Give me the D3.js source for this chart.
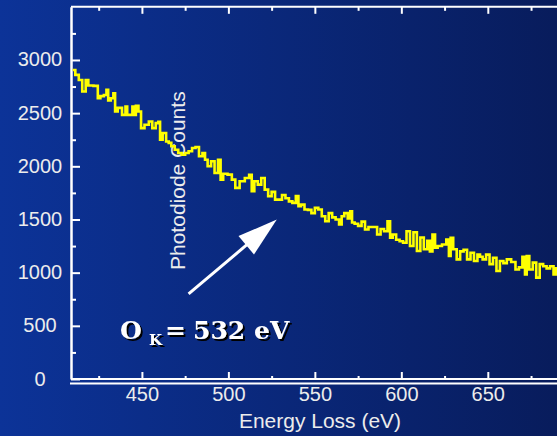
<!DOCTYPE html>
<html><head><meta charset="utf-8">
<script src="https://cdn.jsdelivr.net/npm/d3@7/dist/d3.min.js"></script>
<style>
html,body{margin:0;padding:0;overflow:hidden;background:#0a2a80}
</style>
</head><body>
<svg id="chart" width="557" height="436"></svg>
<script>
// ---- data ----
const energy = [410,413,414,417,418,420,424,425,427,429,430,431,433,434,435,437,440,441,442,444,445,446,447,449,450,453,455,457,459,460,461,463,465,466,468,470,472,474,476,478,480,482,484,486,487,489,491,493,495,496,498,501,503,505,508,511,513,514,516,518,520,522,524,526,528,530,532,534,536,538,540,541,543,545,547,549,551,553,555,557,559,561,563,565,566,568,570,571,572,574,576,578,580,582,585,587,589,591,593,594,596,598,600,602,604,606,608,610,612,614,616,617,619,620,622,625,627,628,629,631,633,635,637,639,641,643,645,646,648,650,652,654,656,658,660,662,665,667,669,671,672,673,675,677,679,681,683,685,687,689,690];
const counts = [2906,2860,2812,2703,2812,2760,2756,2640,2660,2670,2719,2620,2640,2687,2516,2550,2484,2562,2484,2484,2562,2484,2569,2516,2359,2391,2422,2359,2406,2419,2250,2313,2234,2220,2188,2156,2125,2109,2125,2141,2172,2181,2094,2125,2062,2000,2047,1937,2062,1875,1930,1922,1875,1797,1860,1890,1920,1765,1859,1828,1890,1781,1718,1760,1687,1687,1730,1700,1670,1656,1720,1625,1640,1594,1590,1560,1609,1594,1530,1484,1560,1520,1500,1453,1530,1560,1510,1578,1472,1460,1440,1480,1406,1430,1430,1359,1410,1390,1484,1328,1359,1310,1295,1281,1390,1250,1380,1203,1330,1220,1300,1200,1359,1234,1250,1265,1312,1156,1328,1220,1125,1200,1215,1125,1187,1110,1170,1150,1125,1170,1080,1140,1016,1110,1090,1125,1100,1030,1050,1150,984,1156,1030,1094,953,1080,1060,1040,1060,984,1040];
const yMajor = [0,500,1000,1500,2000,2500,3000];
const yMinor = [250,750,1250,1750,2250,2750,3250];
const xMajor = [450,500,550,600,650];
const xMinor = [425,475,525,575,625,675];
const xTitle = "Energy Loss (eV)";
const yTitle = "Photodiode Counts";
const noteMain = "O", noteSub = "K", noteEq = "=", noteVal = "532", noteUnit = "eV";
const arrowFrom = [477, 800], arrowTo = [528, 1500];

// ---- layout ----
const W = 557, H = 436;
const plotLeft = 71, plotTop = 6.8, plotBottom = 379;
const sansFont = "'Liberation Sans', Arial, sans-serif";
const x = d3.scaleLinear().domain([409, 700]).range([plotLeft, plotLeft + 291 * 1.7295]);
const y = d3.scaleLinear().domain([0, 3500]).range([plotBottom, plotTop]);

const svg = d3.select("#chart");
const defs = svg.append("defs");
const bg = defs.append("linearGradient").attr("id", "bg").attr("x1", "0").attr("x2", "1").attr("y1", "0").attr("y2", "0");
bg.append("stop").attr("offset", "0").attr("stop-color", "#0c3398");
bg.append("stop").attr("offset", "1").attr("stop-color", "#081c5c");
const sh = defs.append("filter").attr("id", "shadow").attr("x", "-10%").attr("y", "-20%").attr("width", "130%").attr("height", "160%");
sh.append("feDropShadow").attr("dx", 2).attr("dy", 2).attr("stdDeviation", 0.6).attr("flood-color", "#000").attr("flood-opacity", 1);
defs.append("clipPath").attr("id", "plot").append("rect").attr("x", plotLeft).attr("y", plotTop).attr("width", W - plotLeft).attr("height", plotBottom - plotTop);

svg.append("rect").attr("width", W).attr("height", H).attr("fill", "url(#bg)");

const axisColor = "#ffffff", labelColor = "#ececec";
function styleAxis(g, w) {
  g.selectAll("path.domain").attr("stroke", axisColor).attr("stroke-width", w);
  g.selectAll(".tick line").attr("stroke", axisColor).attr("stroke-width", 2);
}

// left axis
const gyMin = svg.append("g").attr("transform", `translate(${plotLeft},0)`)
  .call(d3.axisLeft(y).tickValues(yMinor).tickSize(-5).tickSizeOuter(0).tickFormat(""));
gyMin.select("path.domain").remove();
styleAxis(gyMin, 2);
const gy = svg.append("g").attr("transform", `translate(${plotLeft},0)`)
  .call(d3.axisLeft(y).tickValues(yMajor).tickSize(-9).tickSizeOuter(0).tickPadding(31).tickFormat(d3.format("d")));
styleAxis(gy, 2.5);
gy.selectAll(".tick text").attr("text-anchor", "middle").attr("fill", labelColor)
  .attr("font-size", 20).style("font-family", sansFont).attr("dy", "0.3em");

// bottom axis
const gxMin = svg.append("g").attr("transform", `translate(0,${plotBottom})`)
  .call(d3.axisBottom(x).tickValues(xMinor).tickSize(-3).tickSizeOuter(0).tickFormat(""));
gxMin.select("path.domain").remove();
styleAxis(gxMin, 2);
const gx = svg.append("g").attr("transform", `translate(0,${plotBottom})`)
  .call(d3.axisBottom(x).tickValues(xMajor).tickSize(-7).tickSizeOuter(0).tickPadding(8).tickFormat(d3.format("d")));
styleAxis(gx, 2);
gx.select("path.domain").attr("d", `M${plotLeft},0H${W}`);
gx.selectAll(".tick text").attr("fill", labelColor).attr("font-size", 20).style("font-family", sansFont);
svg.append("line").attr("x1", plotLeft - 1).attr("x2", W).attr("y1", plotBottom + 4.5).attr("y2", plotBottom + 4.5)
  .attr("stroke", axisColor).attr("stroke-width", 2);

// top axis (frame)
const gtMin = svg.append("g").attr("transform", `translate(0,${plotTop})`)
  .call(d3.axisTop(x).tickValues(xMinor).tickSize(-4).tickSizeOuter(0).tickFormat(""));
gtMin.select("path.domain").remove();
styleAxis(gtMin, 2);
const gt = svg.append("g").attr("transform", `translate(0,${plotTop})`)
  .call(d3.axisTop(x).tickValues(xMajor).tickSize(-7).tickSizeOuter(0).tickFormat(""));
styleAxis(gt, 2);
gt.select("path.domain").attr("d", `M${plotLeft},0H${W}`);

// titles
svg.append("text").attr("x", 320).attr("y", 428).attr("text-anchor", "middle")
  .attr("fill", labelColor).attr("font-size", 21).style("font-family", sansFont).text(xTitle);
svg.append("text").attr("transform", "translate(184.5,270) rotate(-90)")
  .attr("fill", labelColor).attr("font-size", 21).style("font-family", sansFont).text(yTitle);

// data line
const line = d3.line().x((d, i) => x(energy[i])).y((d, i) => y(counts[i])).curve(d3.curveStep);
svg.append("path").datum(counts).attr("clip-path", "url(#plot)")
  .attr("d", line).attr("fill", "none").attr("stroke", "#ffff00")
  .attr("stroke-width", 2.6).attr("stroke-linejoin", "miter");

// arrow annotation
const ax0 = x(arrowFrom[0]), ay0 = y(arrowFrom[1]), ax1 = x(arrowTo[0]), ay1 = y(arrowTo[1]);
const len = Math.hypot(ax1 - ax0, ay1 - ay0), ux = (ax1 - ax0) / len, uy = (ay1 - ay0) / len;
const headL = 40, headW = 12;
const bx = ax1 - ux * headL, by = ay1 - uy * headL;
svg.append("line").attr("x1", ax0).attr("y1", ay0).attr("x2", bx + ux * 4).attr("y2", by + uy * 4)
  .attr("stroke", "#fff").attr("stroke-width", 3);
svg.append("path").attr("fill", "#fff")
  .attr("d", `M${ax1},${ay1}L${bx - uy * headW},${by + ux * headW}L${bx + uy * headW},${by - ux * headW}Z`);

// O_K = 532 eV label
const note = svg.append("text").attr("filter", "url(#shadow)").attr("fill", "#fff")
  .style("font-family", "'DejaVu Serif', serif").attr("font-weight", "bold").attr("font-size", 25)
  .attr("y", 339);
note.append("tspan").attr("x", 120).text(noteMain);
note.append("tspan").attr("x", 149).attr("y", 345).attr("font-size", 15).text(noteSub);
note.append("tspan").attr("x", 165).attr("y", 339).text(noteEq);
note.append("tspan").attr("x", 193).text(noteVal);
note.append("tspan").attr("x", 254).text(noteUnit);
</script>
</body></html>
